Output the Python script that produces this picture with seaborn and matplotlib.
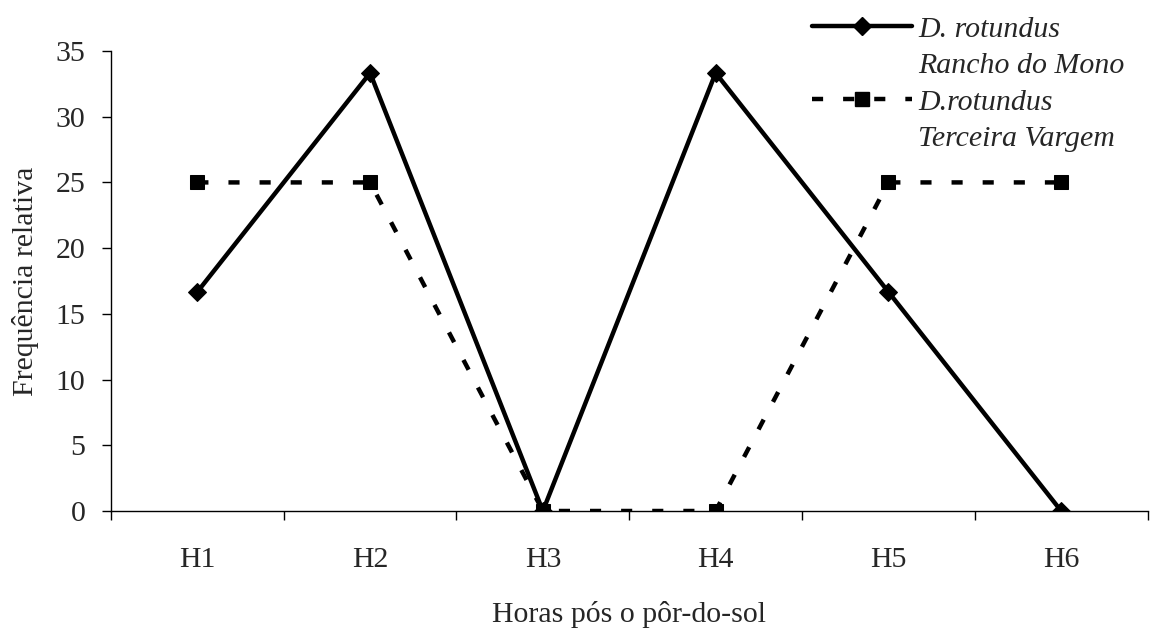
import numpy as np
import pandas as pd
import matplotlib.pyplot as plt
import seaborn as sns
from matplotlib.lines import Line2D

# Data
horas = ["H1", "H2", "H3", "H4", "H5", "H6"]
rancho = [16.67, 33.33, 0, 33.33, 16.67, 0]
terceira = [25, 25, 0, 0, 25, 25]

df = pd.DataFrame({"Horas": horas, "Rancho": rancho, "Terceira": terceira})
df["pos"] = np.arange(len(horas))

sns.set_style("ticks")
plt.rcParams["font.family"] = ["Liberation Serif", "DejaVu Serif"]
fs = 21.5
plt.rcParams["font.size"] = fs

fig = plt.figure(figsize=(11.51, 6.35), dpi=100)
ax = fig.add_axes([0.0964, 0.1953, 0.9006, 0.7244])

sns.lineplot(data=df, x="pos", y="Rancho", ax=ax, color="black", linewidth=3.2,
             marker="D", markersize=9, markeredgecolor="black")
sns.lineplot(data=df, x="pos", y="Terceira", ax=ax, color="black", linewidth=3.2,
             marker="s", markersize=10, markeredgecolor="black")
ax.lines[1].set_dashes((2.5, 4.5))

ax.set_xlim(-0.5, len(horas) - 0.5)
ax.set_ylim(0, 35)
ax.set_yticks(range(0, 36, 5))
ax.set_xticks(df["pos"])
ax.set_xticklabels(horas)
ax.set_xticks(np.arange(-0.5, len(horas), 1), minor=True)
ax.tick_params(axis="x", which="major", length=0, pad=26, labelsize=fs)
ax.tick_params(axis="x", which="minor", length=6.5, width=1, color="black", direction="out")
ax.tick_params(axis="y", length=6.5, width=1, color="black", pad=12, labelsize=fs)

ax.set_xlabel("Horas pós o pôr-do-sol", fontsize=fs, labelpad=20)
ax.set_ylabel("Frequência relativa", fontsize=fs, labelpad=12)

for s in ["top", "right"]:
    ax.spines[s].set_visible(False)
for s in ["left", "bottom"]:
    ax.spines[s].set_color("black")
    ax.spines[s].set_linewidth(1)

h1 = Line2D([], [], color="black", linewidth=3.2, marker="D", markersize=9)
h2 = Line2D([], [], color="black", linewidth=3.2, marker="s", markersize=10, dashes=(2.5, 4.5))
blank = Line2D([], [], color="none")
leg = fig.legend([h1, blank, h2, blank],
                 ["D. rotundus", "Rancho do Mono", "D.rotundus", "Terceira Vargem"],
                 loc="upper right", bbox_to_anchor=(0.995, 1.008), frameon=False,
                 prop={"style": "italic", "size": fs}, handlelength=3.35,
                 handletextpad=0.2, labelspacing=0.32, borderpad=0.2)

fig.savefig("out.png", dpi=100)
